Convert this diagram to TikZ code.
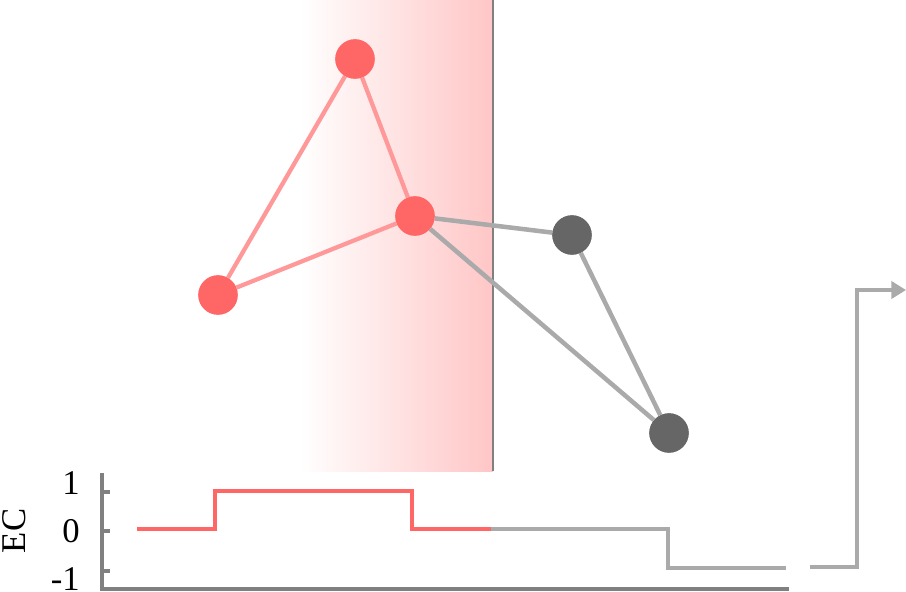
\documentclass[tikz,border=0pt]{standalone}
\usepackage{fontspec}
\setmainfont{Liberation Serif}
\usetikzlibrary{arrows.meta}
\definecolor{nodered}{RGB}{255,102,102}
\definecolor{edgered}{RGB}{255,153,153}
\definecolor{nodegray}{RGB}{102,102,102}
\definecolor{edgegray}{RGB}{170,170,170}
\definecolor{axisgray}{RGB}{128,128,128}
\definecolor{shadepink}{RGB}{255,198,198}
\tikzset{
  rnode/.style={circle,fill=nodered,inner sep=0pt,minimum size=29.5pt},
  gnode/.style={circle,fill=nodegray,inner sep=0pt,minimum size=29.5pt},
  redge/.style={draw=edgered,line width=3.2pt},
  gedge/.style={draw=edgegray,line width=3.4pt},
  labfont/.style={font=\fontsize{26}{26}\selectfont,inner sep=0pt},
  ticklab/.style={labfont,anchor=east},
  axisline/.style={draw=axisgray,line width=3pt},
  stepred/.style={draw=nodered,line width=2.3pt},
  stepgray/.style={draw=edgegray,line width=2.3pt},
}
\begin{document}
\begin{tikzpicture}[x=0.75pt,y=-0.75pt]
\useasboundingbox (0,0) rectangle (906,592);
% shaded band
\shade[left color=white,right color=shadepink] (300,0) rectangle (493,471);
\draw[draw=axisgray,line width=1.1pt] (493,0) -- (493,471);
% nodes
\node[rnode] (a) at (355,59) {};
\node[rnode] (b) at (415,216) {};
\node[rnode] (c) at (218,295) {};
\node[gnode] (d) at (572,235) {};
\node[gnode] (e) at (669,433) {};
% edges
\path[redge] (a) -- (b);
\path[redge] (a) -- (c);
\path[redge] (c) -- (b);
\path[gedge] (b) -- (d);
\path[gedge] (b) -- (e);
\path[gedge] (d) -- (e);
% redraw nodes on top
\node[rnode] at (a) {};
\node[rnode] at (b) {};
\node[rnode] at (c) {};
\node[gnode] at (d) {};
\node[gnode] at (e) {};
% chart axes
\coordinate (ytop) at (102,473);
\coordinate (orig) at (102,589);
\coordinate (xend) at (789,589);
\draw[axisline] (ytop) -- (orig) -- (xend);
\draw[axisline] (102,492) -- (110,492);
\draw[axisline] (102,531) -- (110,531);
\draw[axisline] (102,571) -- (110,571);
\node[ticklab] (l1) at (80,483) {1};
\node[ticklab] (l0) at (80,531) {0};
\node[ticklab,anchor=north east] (lm1) at (80,567) {-1};
\node[labfont,rotate=90] (ec) at (14,531) {EC};
% step signal
\draw[stepred] (137,529) -- (215,529) -- (215,491) -- (412,491) -- (412,529) -- (491,529);
\draw[stepgray] (491,529) -- (668,529) -- (668,568) -- (786,568);
\coordinate (outs) at (810,567);
\coordinate (oute) at (906,290);
\draw[stepgray,-{Triangle[length=11pt,width=13pt]}] (outs) -- (857,567) -- (857,290) -- (oute);
\end{tikzpicture}
\end{document}
